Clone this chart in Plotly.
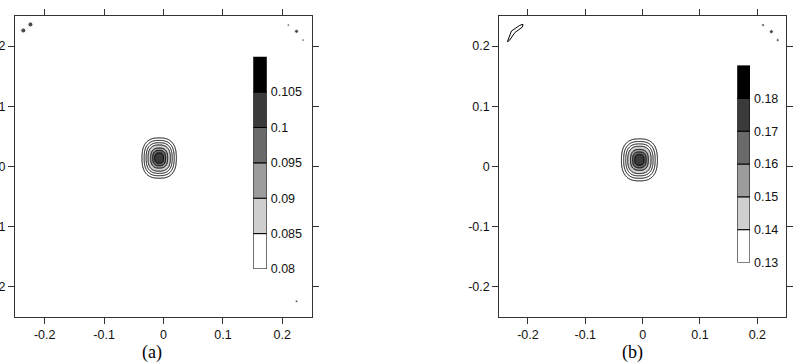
import numpy as np
import plotly.graph_objects as go

# ---------------- data ----------------
axis_ticks = [-0.2, -0.1, 0.0, 0.1, 0.2]
axis_ticktext = ["-0.2", "-0.1", "0", "0.1", "0.2"]

band_colors = ["#ffffff", "#cfcfcf", "#9c9c9c", "#6a6a6a", "#3a3a3a", "#000000"]

# radial profile of the central peak (normalised radius -> value)
profile_rho = [0.0, 0.265, 0.38, 0.50, 0.65, 0.765, 0.88, 1.0, 1.3, 10.0]

# panel (a)
a_levels = [0.085, 0.09, 0.095, 0.1, 0.105]
a_cbar_edges = [0.08, 0.085, 0.09, 0.095, 0.1, 0.105, 0.11]
a_cbar_ticks = [0.08, 0.085, 0.09, 0.095, 0.1, 0.105]
a_cbar_text = ["0.08", "0.085", "0.09", "0.095", "0.1", "0.105"]
a_extra_levels = [0.081, 0.0825, 0.084]
a_profile = [0.1035, 0.1, 0.095, 0.09, 0.085, 0.084, 0.0825, 0.081, 0.0801, 0.0801]
a_center = (-0.0073, 0.014)
a_width = (0.0287, 0.0333)

# panel (b)
b_levels = [0.14, 0.15, 0.16, 0.17, 0.18]
b_cbar_edges = [0.13, 0.14, 0.15, 0.16, 0.17, 0.18, 0.19]
b_cbar_ticks = [0.13, 0.14, 0.15, 0.16, 0.17, 0.18]
b_cbar_text = ["0.13", "0.14", "0.15", "0.16", "0.17", "0.18"]
b_extra_levels = [0.132, 0.135, 0.138]
b_profile = [0.177, 0.17, 0.16, 0.15, 0.14, 0.138, 0.135, 0.132, 0.1302, 0.1302]
b_center = (-0.0056, 0.011)
b_width = (0.0311, 0.0347)

# small corner artefacts
a_dots_x = [-0.236, -0.224, 0.210, 0.224, 0.235, 0.224]
a_dots_y = [0.226, 0.236, 0.235, 0.2245, 0.210, -0.224]
a_dots_size = [5, 5, 2.5, 4, 2.5, 2.5]
b_dots_x = [0.210, 0.2245, 0.2355]
b_dots_y = [0.235, 0.224, 0.210]
b_dots_size = [3, 4, 3]
b_sliver_x = [-0.2358, -0.2288, -0.2143, -0.2086, -0.2096, -0.2230, -0.2318, -0.2358]
b_sliver_y = [0.2073, 0.2250, 0.2345, 0.2362, 0.2317, 0.2223, 0.2100, 0.2073]

shape_power = 2.6


def field(profile, center, width):
    gx = np.arange(-0.07, 0.06 + 1e-9, 0.0008)
    gy = np.arange(-0.06, 0.08 + 1e-9, 0.0008)
    X, Y = np.meshgrid(gx, gy)
    u = np.abs(X - center[0]) / width[0]
    v = np.abs(Y - center[1]) / width[1]
    rho = (u ** shape_power + v ** shape_power) ** (1.0 / shape_power)
    Z = np.interp(rho, profile_rho, profile)
    return gx, gy, Z


n = len(band_colors)
colorscale = [[i / (n - 1), c] for i, c in enumerate(band_colors)]

fig = go.Figure()

font_sans = dict(family="Liberation Sans, Arial", size=12.5, color="#111")


def add_panel(levels, extra, profile, center, width, xa, ya):
    gx, gy, Z = field(profile, center, width)
    step = levels[1] - levels[0]
    fig.add_trace(go.Contour(
        x=gx, y=gy, z=Z, xaxis=xa, yaxis=ya,
        colorscale=colorscale,
        contours=dict(start=levels[0], end=levels[-1], size=step, coloring="fill"),
        line=dict(color="black", width=1),
        showscale=False, hoverinfo="skip",
    ))
    estep = extra[1] - extra[0]
    fig.add_trace(go.Contour(
        x=gx, y=gy, z=Z, xaxis=xa, yaxis=ya,
        contours=dict(start=extra[0], end=extra[-1], size=estep, coloring="none"),
        line=dict(color="black", width=1),
        showscale=False, hoverinfo="skip",
    ))


def add_cbar(edges, xa, ya):
    bases = edges[:-1]
    heights = [edges[i + 1] - edges[i] for i in range(len(edges) - 1)]
    fig.add_trace(go.Bar(
        x=[0] * len(bases), y=heights, base=bases, width=1,
        marker=dict(color=band_colors, line=dict(color="black", width=1)),
        xaxis=xa, yaxis=ya, showlegend=False, hoverinfo="skip",
    ))


add_panel(a_levels, a_extra_levels, a_profile, a_center, a_width, "x", "y")
add_panel(b_levels, b_extra_levels, b_profile, b_center, b_width, "x2", "y2")
add_cbar(a_cbar_edges, "x3", "y3")
add_cbar(b_cbar_edges, "x4", "y4")

fig.add_trace(go.Scatter(x=a_dots_x, y=a_dots_y, mode="markers", xaxis="x", yaxis="y",
                         marker=dict(color="black", size=a_dots_size), showlegend=False,
                         hoverinfo="skip"))
fig.add_trace(go.Scatter(x=b_dots_x, y=b_dots_y, mode="markers", xaxis="x2", yaxis="y2",
                         marker=dict(color="black", size=b_dots_size), showlegend=False,
                         hoverinfo="skip"))
fig.add_trace(go.Scatter(x=b_sliver_x, y=b_sliver_y, mode="lines", xaxis="x2", yaxis="y2",
                         line=dict(color="black", width=1), showlegend=False,
                         hoverinfo="skip"))

axis_common = dict(
    range=[-0.25, 0.25], tickvals=axis_ticks, ticktext=axis_ticktext,
    ticks="outside", ticklen=6, tickwidth=1, tickcolor="#333",
    showline=True, linecolor="#333", linewidth=1, mirror="ticks",
    showgrid=False, zeroline=False, tickfont=font_sans,
)

cbx_common = dict(range=[-0.5, 0.5], visible=False, fixedrange=True)
cby_common = dict(showline=False, showgrid=False, zeroline=False, ticks="",
                  side="right", tickfont=font_sans, fixedrange=True,
                  ticklabelstandoff=3)

fig.update_layout(
    width=798, height=362,
    margin=dict(l=15, r=12, t=16, b=45, autoexpand=False),
    paper_bgcolor="white", plot_bgcolor="rgba(0,0,0,0)",
    showlegend=False, barmode="overlay",
    xaxis=dict(domain=[0, 0.3852], anchor="y", **axis_common),
    yaxis=dict(domain=[0, 1], anchor="x", **axis_common),
    xaxis2=dict(domain=[0.6281, 1.0], anchor="y2", **axis_common),
    yaxis2=dict(domain=[0, 1], anchor="x2", **axis_common),
    xaxis3=dict(domain=[0.3091, 0.3265], anchor="y3", **cbx_common),
    yaxis3=dict(domain=[0.1595, 0.8648], anchor="x3",
                range=[a_cbar_edges[0], a_cbar_edges[-1]],
                tickvals=a_cbar_ticks, ticktext=a_cbar_text, **cby_common),
    xaxis4=dict(domain=[0.9368, 0.9533], anchor="y4", **cbx_common),
    yaxis4=dict(domain=[0.1811, 0.8355], anchor="x4",
                range=[b_cbar_edges[0], b_cbar_edges[-1]],
                tickvals=b_cbar_ticks, ticktext=b_cbar_text, **cby_common),
    annotations=[
        dict(text="(a)", x=0.1773, y=-0.1196, xref="paper", yref="paper",
             showarrow=False, xanchor="center", yanchor="middle",
             font=dict(family="Liberation Serif, Times New Roman", size=18, color="black")),
        dict(text="(b)", x=0.8003, y=-0.1196, xref="paper", yref="paper",
             showarrow=False, xanchor="center", yanchor="middle",
             font=dict(family="Liberation Serif, Times New Roman", size=18, color="black")),
    ],
)

fig.write_html("out.html")
